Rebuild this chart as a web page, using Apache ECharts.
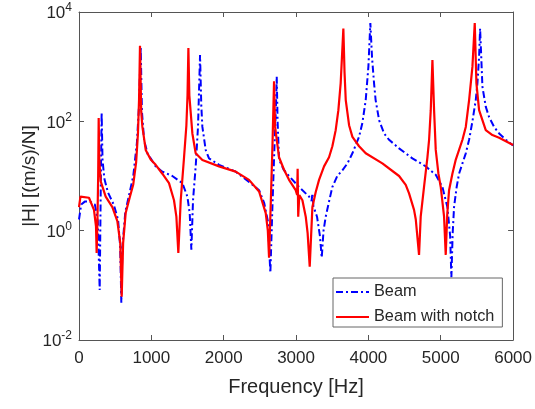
<!DOCTYPE html>
<html>
<head>
<meta charset="utf-8">
<script src="https://cdn.jsdelivr.net/npm/echarts@6/dist/echarts.min.js"></script>
<style>
html,body{margin:0;padding:0;background:#fff;}
#c{width:535px;height:409px;}
</style>
</head>
<body>
<div id="c"></div>
<script>
// Beam (blue, dash-dot)
const beamFreq = [0,30,80,150,220,260,286,300,313,325,350,400,480,540,570,585,600,640,700,750,800,830,853,870,900,950,991,1060,1152,1290,1429,1498,1530,1553,1576,1613,1645,1673,1690,1705,1751,1797,1936,2166,2350,2489,2560,2610,2645,2670,2700,2720,2733,2745,2765,2830,2903,3041,3180,3215,3226,3240,3290,3330,3355,3380,3410,3460,3502,3570,3640,3710,3779,3871,3917,3963,4000,4027,4050,4078,4100,4148,4217,4286,4424,4608,4793,4931,5023,5092,5130,5147,5165,5184,5220,5253,5300,5346,5392,5438,5484,5507,5530,5544,5560,5576,5622,5668,5738,5807,5899,6000];
const beamMag = [1.6,3.0,3.4,3.4,3.0,1.5,0.082,5,145,20,9,5,3,1.6,0.5,0.048,0.5,2.2,5,10,40,200,2300,150,45,25,21,15,12,10,7.4,4.2,2.1,0.45,3.6,15,80,1630,200,80,30,21,16,12,7.8,5.5,3.2,1.5,0.17,2,30,150,660,100,20,13,10,6.3,4.2,3.5,4.8,2.8,1.8,0.8,0.32,1.0,1.8,3.6,6.3,10,12.7,17,26,52,94,245,1000,6300,1500,500,245,105,60,46,32,21,15,10.5,6.3,2.7,0.8,0.14,0.9,2.7,6.3,11,17,26,46,100,245,500,1500,5000,1500,430,186,120,79,60,46,36];

// Beam with notch (red, solid)
const notchFreq = [0,20,46,138,207,235,244,255,265,272,280,300,369,461,530,570,590,610,645,700,750,790,815,830,843,860,876,922,991,1060,1152,1244,1313,1346,1373,1406,1452,1484,1500,1512,1525,1567,1613,1705,1936,2166,2350,2489,2581,2610,2627,2650,2675,2696,2710,2765,2834,2903,2995,3015,3022,3030,3045,3088,3134,3160,3189,3226,3272,3318,3387,3456,3502,3548,3585,3617,3654,3670,3687,3733,3779,3871,3963,4193,4424,4516,4562,4631,4655,4700,4723,4769,4816,4839,4862,4885,4908,4931,4968,5000,5046,5069,5090,5115,5161,5208,5300,5346,5392,5438,5470,5493,5530,5622,5714,5807,6000];
const notchMag = [2.7,4.2,4.5,4.0,2.4,1.2,0.39,1.5,10,115,20,8,4.2,2.7,1.5,0.6,0.062,0.6,2.1,4,7,18,60,250,2400,150,80,30,20,16,11,7.4,3.6,1.8,0.39,3.6,22,83,300,2200,300,60,26,19.6,15,12,8.5,5.2,2.1,1.0,0.32,3,40,540,80,22,13,8.5,5.5,4.5,13.5,1.8,4.5,3.6,1.8,0.9,0.22,2.7,5.1,8.5,15,22,35,69,160,500,5000,800,245,85,52,35,26,17,10,6.9,4.8,2.4,1.6,0.36,1.8,6.3,22,46,160,1320,160,30,11,6.3,1.8,0.36,2,5.5,11,20,46,79,245,1000,6300,500,160,69,56,50,37];

const seriesNames = ['Beam', 'Beam with notch'];
const xTicks = [0,1000,2000,3000,4000,5000,6000];

const beamData = beamFreq.map((f,i)=>[f, beamMag[i]]);
const notchData = notchFreq.map((f,i)=>[f, notchMag[i]]);

const axisCol = '#555';
const txtCol = '#262626';
const FONT = '"Liberation Sans", Arial, Helvetica, sans-serif';

function yFmt(v){
  const e = Math.round(Math.log10(v));
  return '{b|10}{s|' + e + '}';
}
const yRich = {
  b:{fontSize:17, color:txtCol, fontFamily:FONT, verticalAlign:'bottom'},
  s:{fontSize:12, color:txtCol, fontFamily:FONT, verticalAlign:'top', padding:[0,0,8,0]}
};

const chart = echarts.init(document.getElementById('c'), null, {renderer:'canvas'});
chart.setOption({
  animation:false,
  backgroundColor:'#fff',
  textStyle:{fontFamily:FONT},
  grid:{left:79, right:21, top:12, bottom:69, containLabel:false},
  legend:{
    orient:'vertical', left:333, top:278,
    data:seriesNames,
    backgroundColor:'#fff', borderColor:'#666', borderWidth:1,
    padding:[6,8,2,2], itemGap:9, itemWidth:33, itemHeight:14,
    itemStyle:{opacity:0},
    textStyle:{fontSize:16.3, color:txtCol, fontFamily:FONT}
  },
  xAxis:[{
    type:'value', min:0, max:6000, interval:1000, position:'bottom',
    name:'Frequency [Hz]', nameLocation:'middle', nameGap:37,
    nameTextStyle:{fontSize:20, color:txtCol, fontFamily:FONT},
    axisLine:{show:true, onZero:false, lineStyle:{color:axisCol, width:1}},
    axisTick:{show:true, inside:true, length:5, lineStyle:{color:axisCol}},
    axisLabel:{fontSize:17, color:txtCol, margin:10, fontFamily:FONT,
      formatter:v=> xTicks.includes(v) ? String(v) : ''},
    splitLine:{show:false}
  },{
    type:'value', min:0, max:6000, interval:1000, position:'top',
    axisLine:{show:true, onZero:false, lineStyle:{color:axisCol, width:1}},
    axisTick:{show:true, inside:true, length:5, lineStyle:{color:axisCol}},
    axisLabel:{show:false}, splitLine:{show:false}
  }],
  yAxis:[{
    type:'log', logBase:10, min:0.01, max:10000, interval:2, position:'left',
    name:'|H| [(m/s)/N]', nameLocation:'middle', nameGap:40, nameRotate:90,
    nameMoveOverlap:false,
    nameTextStyle:{fontSize:19, color:txtCol, fontFamily:FONT},
    axisLine:{show:true, onZero:false, lineStyle:{color:axisCol, width:1}},
    axisTick:{show:true, inside:true, length:5, lineStyle:{color:axisCol}},
    minorTick:{show:false},
    axisLabel:{margin:7, formatter:yFmt, rich:yRich},
    splitLine:{show:false}
  },{
    type:'log', logBase:10, min:0.01, max:10000, interval:2, position:'right',
    axisLine:{show:true, onZero:false, lineStyle:{color:axisCol, width:1}},
    axisTick:{show:true, inside:true, length:5, lineStyle:{color:axisCol}},
    axisLabel:{show:false}, splitLine:{show:false}
  }],
  series:[{
    name:seriesNames[0], type:'line', data:beamData, xAxisIndex:0, yAxisIndex:0,
    showSymbol:false, symbol:'none', smooth:false,
    lineStyle:{color:'#0000ff', width:2, type:[7,3,2,3]},
    itemStyle:{color:'#0000ff'}
  },{
    name:seriesNames[1], type:'line', data:notchData, xAxisIndex:0, yAxisIndex:0,
    showSymbol:false, symbol:'none', smooth:false,
    lineStyle:{color:'#ff0000', width:2.2},
    itemStyle:{color:'#ff0000'}
  }]
});
</script>
</body>
</html>
